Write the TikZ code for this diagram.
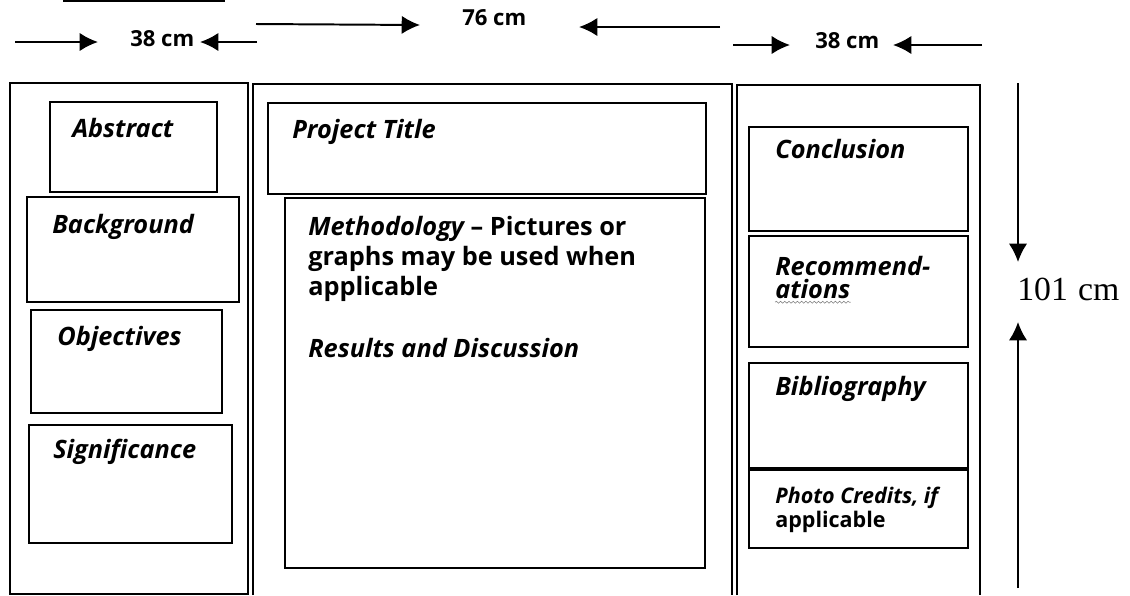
\documentclass[tikz,border=0pt]{standalone}
\usepackage{fontspec}
\setmainfont{Liberation Serif}
\newfontfamily\posterfont{Open Sans}
\usetikzlibrary{arrows.meta,decorations.pathmorphing}

\begin{document}
\begin{tikzpicture}[x=0.025cm, y=-0.025cm,
  panel/.style={line width=1.3pt},
  part/.style={line width=1.3pt},
  head/.style={anchor=base west, inner sep=0pt, font=\posterfont\fontsize{18}{21}\selectfont\bfseries\itshape},
  plain/.style={anchor=base west, inner sep=0pt, font=\posterfont\fontsize{18}{21}\selectfont\bfseries},
  small/.style={anchor=base west, inner sep=0pt, font=\posterfont\fontsize{15.3}{18}\selectfont\bfseries},
  dim/.style={anchor=base west, inner sep=0pt, font=\posterfont\fontsize{15.7}{18}\selectfont\bfseries},
  dimarrow/.style={line width=1.4pt, -{Latex[length=13pt,width=13pt]}}]
\useasboundingbox (0,0) rectangle (1130,595);

% scrap of a line at the top edge
\draw[line width=1.3pt] (63,1) -- (225,1);

% widths
\node[dim] (leftw) at (130,46) {38 cm};
\node[dim] (midw) at (462,25) {76 cm};
\node[dim] (rightw) at (815,48) {38 cm};
\coordinate (la) at (15,42);  \coordinate (lb) at (98,42);
\coordinate (lc) at (257,42); \coordinate (ld) at (200,42);
\coordinate (ma) at (256,24); \coordinate (mb) at (420,25);
\coordinate (mc) at (720,27); \coordinate (md) at (579,27);
\coordinate (ra) at (733,45); \coordinate (rb) at (790,45);
\coordinate (rc) at (982,45); \coordinate (rd) at (893,45);
\draw[dimarrow] (la) -- (lb);
\draw[dimarrow] (lc) -- (ld);
\draw[dimarrow] (ma) -- (mb);
\draw[dimarrow] (mc) -- (md);
\draw[dimarrow] (ra) -- (rb);
\draw[dimarrow] (rc) -- (rd);

% height
\node[anchor=base west, inner sep=0pt, font=\fontsize{24}{27}\selectfont] (height) at (1017,300) {101\hspace{0.3em}cm};
\coordinate (ha) at (1018,83);  \coordinate (hb) at (1018,262);
\coordinate (hc) at (1018,588); \coordinate (hd) at (1018,322);
\draw[dimarrow] (ha) -- (hb);
\draw[dimarrow] (hc) -- (hd);

% the three panels
\draw[panel] (10,83) rectangle (248,594);
\draw[panel] (253,595) |- (732,84) -- (732,595);
\draw[panel] (737,595) |- (980,85) -- (980,595);

% left panel
\draw[part] (50,102) rectangle (217,192);
\draw[part] (27,197) rectangle (239,302);
\draw[part] (31,310) rectangle (222,413);
\draw[part] (29,425) rectangle (232,543);
\node[head] (abstract) at (72,137) {Abstract};
\node[head] (background) at (52,233) {Background};
\node[head] (objectives) at (57,345) {Objectives};
\node[head] (significance) at (53,458) {Significance};

% middle panel
\draw[part] (268,103) rectangle (706,194);
\draw[part] (285,198) rectangle (705,568);
\node[head] (title) at (292,138) {Project Title};
\node[plain] (meth1) at (308,235) {\itshape Methodology\upshape\ – Pictures or};
\node[plain] (meth2) at (308,265) {graphs may be used when};
\node[plain] (meth3) at (308,295) {applicable};
\node[head] (results) at (308,357) {Results and Discussion};

% right panel
\draw[part] (749,127) rectangle (968,231);
\draw[part] (749,236) rectangle (968,347);
\draw[part] (749,363) rectangle (968,468);
\draw[part] (749,470) rectangle (968,548);
\node[head] (conclusion) at (775,158) {Conclusion};
\node[head] (recom1) at (775,275) {Recommend-};
\node[head] (recom2) at (775,298) {ations};
\draw[gray, decorate, decoration={snake, amplitude=0.7pt, segment length=3pt}]
  ([yshift=-3pt]recom2.base west) -- ([yshift=-3pt]recom2.base east);
\node[head] (biblio) at (775,395) {Bibliography};
\node[small] (credits1) at (775,503) {\itshape Photo Credits, if};
\node[small] (credits2) at (775,527) {applicable};
\end{tikzpicture}
\end{document}
